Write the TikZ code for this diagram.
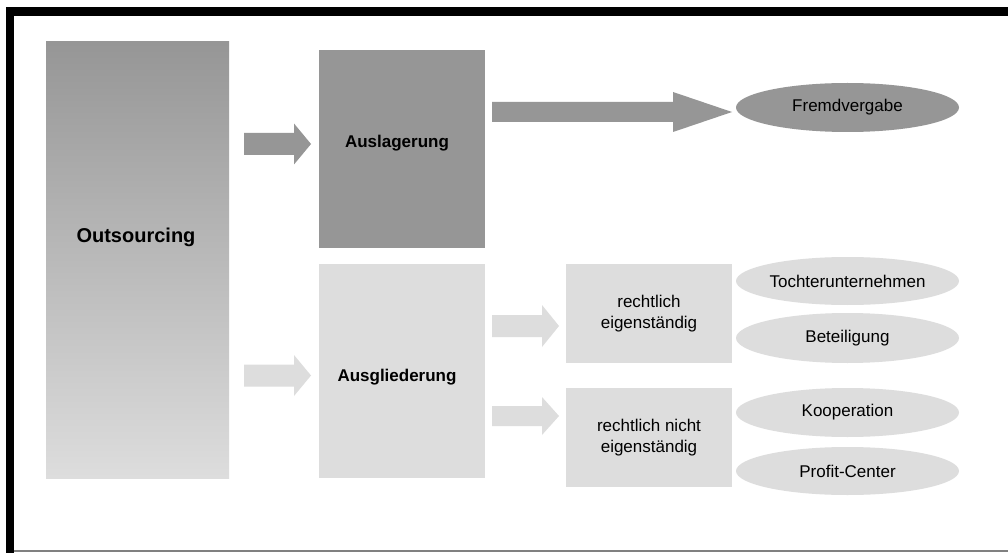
\documentclass[tikz,border=0pt]{standalone}
\usepackage{fontspec}
\setmainfont{Liberation Sans}
\usetikzlibrary{shapes.geometric}
\definecolor{darkg}{HTML}{969696}
\definecolor{lightg}{HTML}{DDDDDD}
\newcommand\blockarr[7]{%
  \fill[#1] (#2,#5-#6) -- (#3,#5-#6) -- (#3,#5-#7) -- (#4,#5) -- (#3,#5+#7) -- (#3,#5+#6) -- (#2,#5+#6) -- cycle;}
\tikzset{
  boxd/.style={rectangle, fill=darkg, draw=none, inner sep=0pt},
  boxl/.style={rectangle, fill=lightg, draw=none, inner sep=0pt},
  ell/.style={ellipse, draw=none, inner sep=0pt, minimum width=223pt, font=\fontsize{17}{20}\selectfont},
  txt/.style={inner sep=0pt, align=center, font=\fontsize{17}{21}\selectfont},
  btxt/.style={inner sep=0pt, font=\bfseries\fontsize{17}{20}\selectfont},
}
\begin{document}
\begin{tikzpicture}[x=1pt,y=-1pt]
\useasboundingbox (0,0) rectangle (1008,553);
\fill[white] (0,0) rectangle (1008,553);
% frame
\fill[black] (6,7) rectangle (1008,16);
\fill[black] (6,7) rectangle (14,553);
\draw[gray, line width=1.5pt] (14,551) -- (1008,551);
% boxes
\node[rectangle, inner sep=0pt, minimum width=183pt, minimum height=436pt, top color=darkg, bottom color=lightg] (outs) at (137.5,260) {};
\node[btxt, font=\bfseries\fontsize{20}{24}\selectfont] (outsT) at (136,237) {Outsourcing};
\node[boxd, minimum width=166pt, minimum height=198pt] (ausl) at (402,149) {};
\node[btxt] (auslT) at (397,143) {Auslagerung};
\node[boxl, minimum width=166pt, minimum height=214pt] (ausg) at (402,371) {};
\node[btxt] (ausgT) at (397,377) {Ausgliederung};
\node[boxl, minimum width=166pt, minimum height=99pt, txt] (re) at (649,313.5) {rechtlich\\eigenständig};
\node[boxl, minimum width=166pt, minimum height=99pt, txt] (rn) at (649,437.5) {rechtlich nicht\\eigenständig};
% ellipses
\node[ell, fill=darkg, minimum height=49pt] (fv) at (847.5,107.5) {Fremdvergabe};
\node[ell, fill=lightg, minimum height=48pt] (tu) at (847.5,281) {Tochterunternehmen};
\node[ell, fill=lightg, minimum height=50pt] (bt) at (847.5,338) {Beteiligung};
\node[ell, fill=lightg, minimum height=49pt] (ko) at (847.5,412.5) {Kooperation};
\node[ell, fill=lightg, minimum height=48pt] (pc) at (847.5,471) {Profit-Center};
% block arrows
\blockarr{darkg}{244}{294}{311}{144}{11}{20.5}
\blockarr{lightg}{244}{294}{311}{375.5}{11}{20.5}
\blockarr{darkg}{492}{673}{732}{112}{10}{20}
\blockarr{lightg}{492}{542}{559}{326}{11}{21}
\blockarr{lightg}{492}{542}{559}{416}{10}{19}
\end{tikzpicture}
\end{document}
